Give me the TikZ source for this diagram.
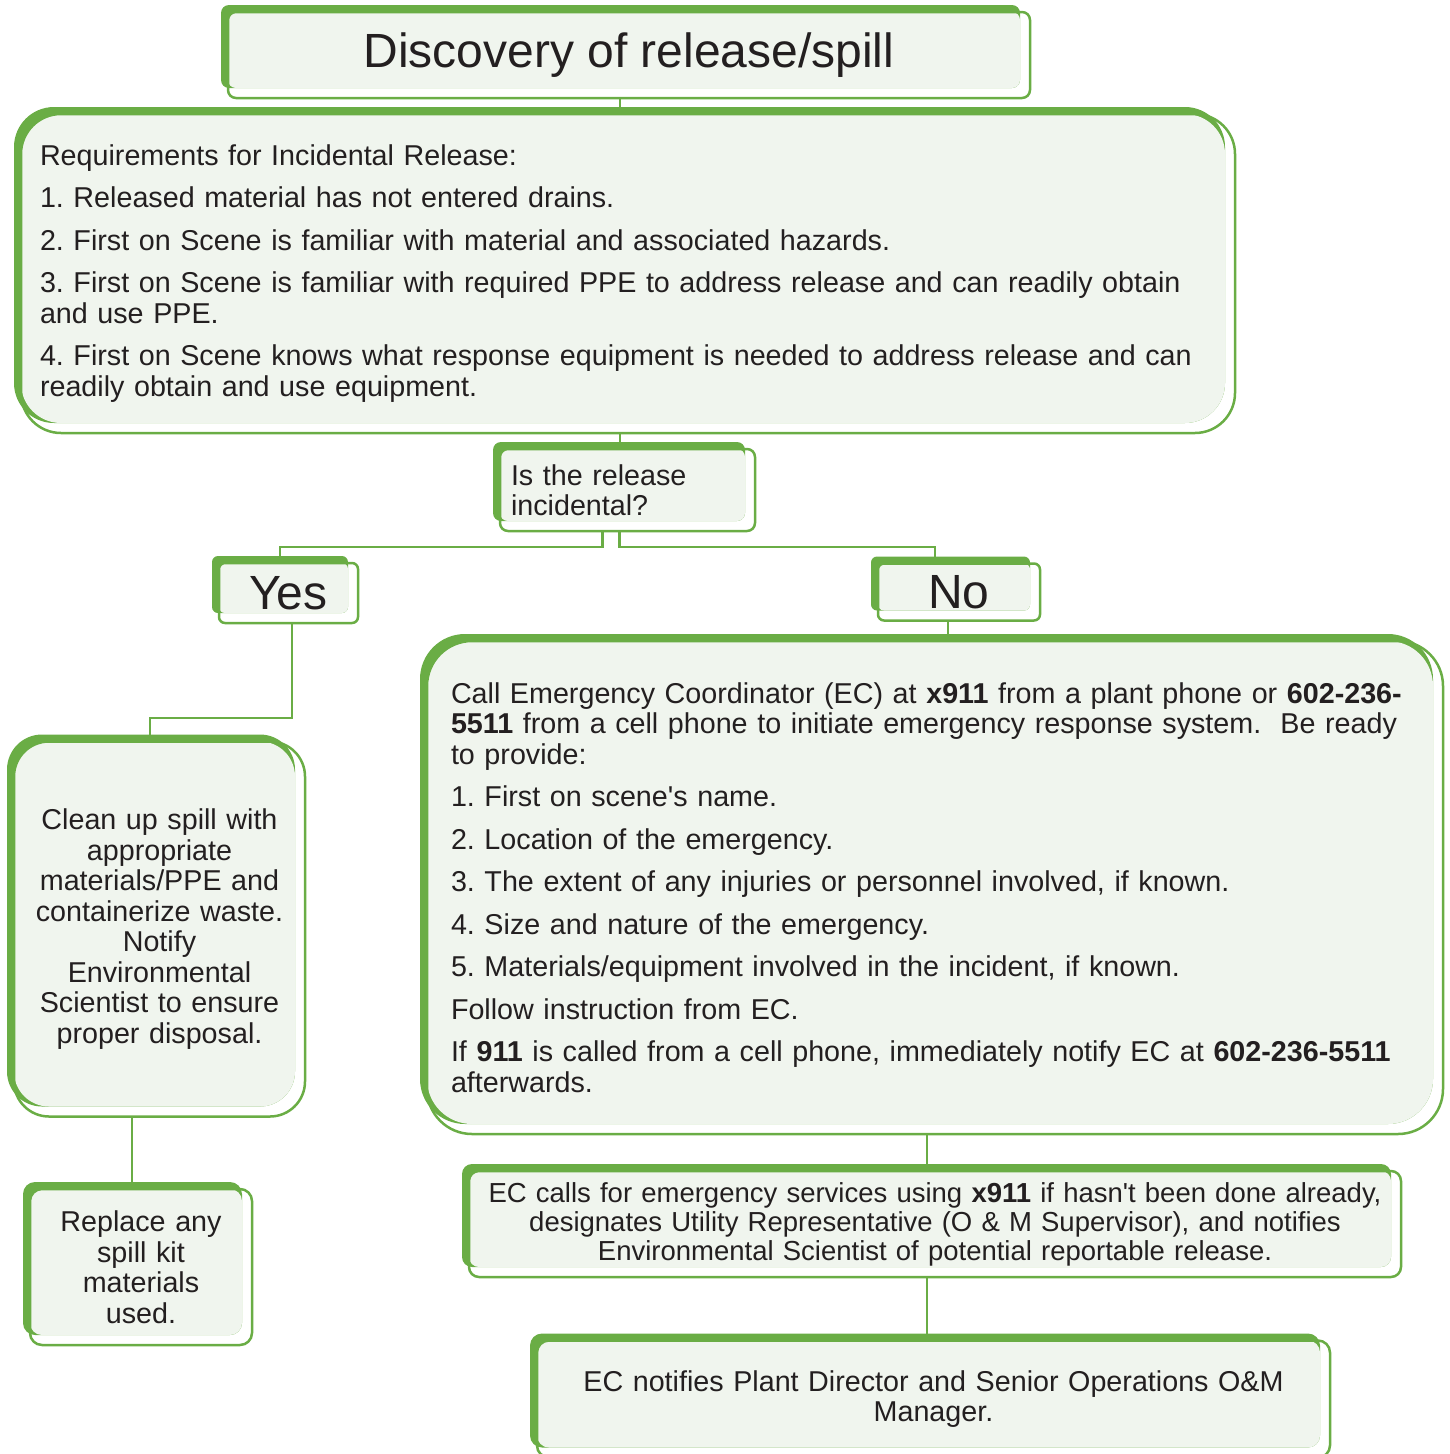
\documentclass[tikz,border=0pt]{standalone}
\usepackage{fontspec}
\setmainfont{Liberation Sans}[Ligatures=TeXOff]
\usetikzlibrary{backgrounds}
\definecolor{sgreen}{HTML}{6AAD45}
\definecolor{pale}{HTML}{F0F5EE}
\definecolor{ink}{HTML}{231F20}
\newcommand\bodyfont{\fontsize{28.7}{30.5}\selectfont\frenchspacing}
\newcommand\ecfont{\fontsize{27.5}{29}\selectfont\frenchspacing}
\newcommand\headfont{\fontsize{48}{56}\selectfont}
\tikzset{
  box/.style={draw=sgreen, line width=2.5pt, inner sep=0pt, outer sep=0pt, text=ink, font=\bodyfont},
  link/.style={draw=sgreen, line width=2.5pt},
}

\begin{document}
\begin{tikzpicture}[x=1pt, y=-1pt]
\useasboundingbox (0,0) rectangle (1450,1454);

% top of the chart
\node[box, rounded corners=8pt, minimum width=802pt, minimum height=86pt, font=\headfont] (disc) at (629,55) {Discovery of release/spill};
\node[box, rounded corners=40pt, minimum width=1214pt, minimum height=319pt, text width=1176pt, align=left] (req) at (628,273.5) {Requirements for Incidental Release:\\[12pt]
1. Released material has not entered drains.\\[12pt]
2. First on Scene is familiar with material and associated hazards.\\[12pt]
3. First on Scene is familiar with required PPE to address release and can readily obtain\\and use PPE.\\[12pt]
4. First on Scene knows what response equipment is needed to address release and can\\readily obtain and use equipment.};
\node[box, rounded corners=8pt, minimum width=255pt, minimum height=82pt, text width=233pt, align=left] (q) at (627.5,490) {Is the release\\incidental?};

% yes side
\node[box, rounded corners=6pt, minimum width=139pt, minimum height=60pt, font=\headfont] (yes) at (288.5,593) {Yes};
\node[box, rounded corners=35pt, minimum width=291pt, minimum height=375pt, text width=280pt, align=center] (clean) at (159.5,929) {Clean up spill with\\appropriate\\materials/PPE and\\containerize waste.\\Notify\\Environmental\\Scientist to ensure\\proper disposal.};
\node[box, rounded corners=12pt, minimum width=222pt, minimum height=156pt, text width=200pt, align=center] (repl) at (141,1267) {Replace any\\spill kit\\materials\\used.};

% no side
\node[box, rounded corners=6pt, minimum width=162pt, minimum height=57pt, font=\headfont] (no) at (959,592) {No};
\node[box, rounded corners=45pt, minimum width=1016pt, minimum height=493pt, text width=968pt, align=left] (emerg) at (935,887.5) {Call Emergency Coordinator (EC) at \textbf{x911} from a plant phone or \textbf{602-236-}\\\textbf{5511} from a cell phone to initiate emergency response system.~ Be ready\\to provide:\\[12pt]
1. First on scene's name.\\[12pt]
2. Location of the emergency.\\[12pt]
3. The extent of any injuries or personnel involved, if known.\\[12pt]
4. Size and nature of the emergency.\\[12pt]
5. Materials/equipment involved in the incident, if known.\\[12pt]
Follow instruction from EC.\\[12pt]
If \textbf{911} is called from a cell phone, immediately notify EC at \textbf{602-236-5511}\\afterwards.};
\node[box, rounded corners=10pt, minimum width=932pt, minimum height=106pt, text width=920pt, align=center, font=\ecfont] (ec1) at (935,1224) {EC calls for emergency services using \textbf{x911} if hasn't been done already,\\designates Utility Representative (O \& M Supervisor), and notifies\\Environmental Scientist of potential reportable release.};
\node[box, rounded corners=12pt, minimum width=793pt, minimum height=117pt, text width=780pt, align=center] (ec2) at (933.5,1399) {EC notifies Plant Director and Senior Operations O\&M\\Manager.};

% shadow strip and pale fill behind each box
\begin{scope}[on background layer]
\foreach \n/\r in {disc/8pt, req/40pt, q/8pt, yes/6pt, no/6pt, clean/35pt, repl/12pt, emerg/45pt, ec1/10pt, ec2/12pt}{
  \fill[sgreen, rounded corners=\r] ([shift={(-7,-7)}]\n.north west) rectangle ([shift={(-10,-10)}]\n.south east);
  \fill[pale, rounded corners=\r] (\n.north west) rectangle ([shift={(-10,-10)}]\n.south east);
}
\end{scope}

% connectors
\draw[link] ([xshift=-9pt]disc.south) -- ([xshift=-8pt]req.north);
\draw[link] ([xshift=-8pt]req.south) -- ([xshift=-7.5pt]q.north);
\draw[link] ([xshift=-25pt]q.south) -- ++(0,16) -| ([xshift=-8.5pt]yes.north);
\draw[link] ([xshift=-8pt]q.south) -- ++(0,16) -| ([xshift=-24pt]no.north);
\draw[link] ([xshift=3.5pt]yes.south) -- ++(0,95) -| ([xshift=-9.5pt]clean.north);
\draw[link] ([xshift=-27.5pt]clean.south) -- ([xshift=-9pt]repl.north);
\draw[link] ([xshift=-11pt]no.south) -- ([xshift=13pt]emerg.north);
\draw[link] ([xshift=-8pt]emerg.south) -- ([xshift=-8pt]ec1.north);
\draw[link] ([xshift=-8pt]ec1.south) -- ([xshift=-6.5pt]ec2.north);
\end{tikzpicture}
\end{document}
